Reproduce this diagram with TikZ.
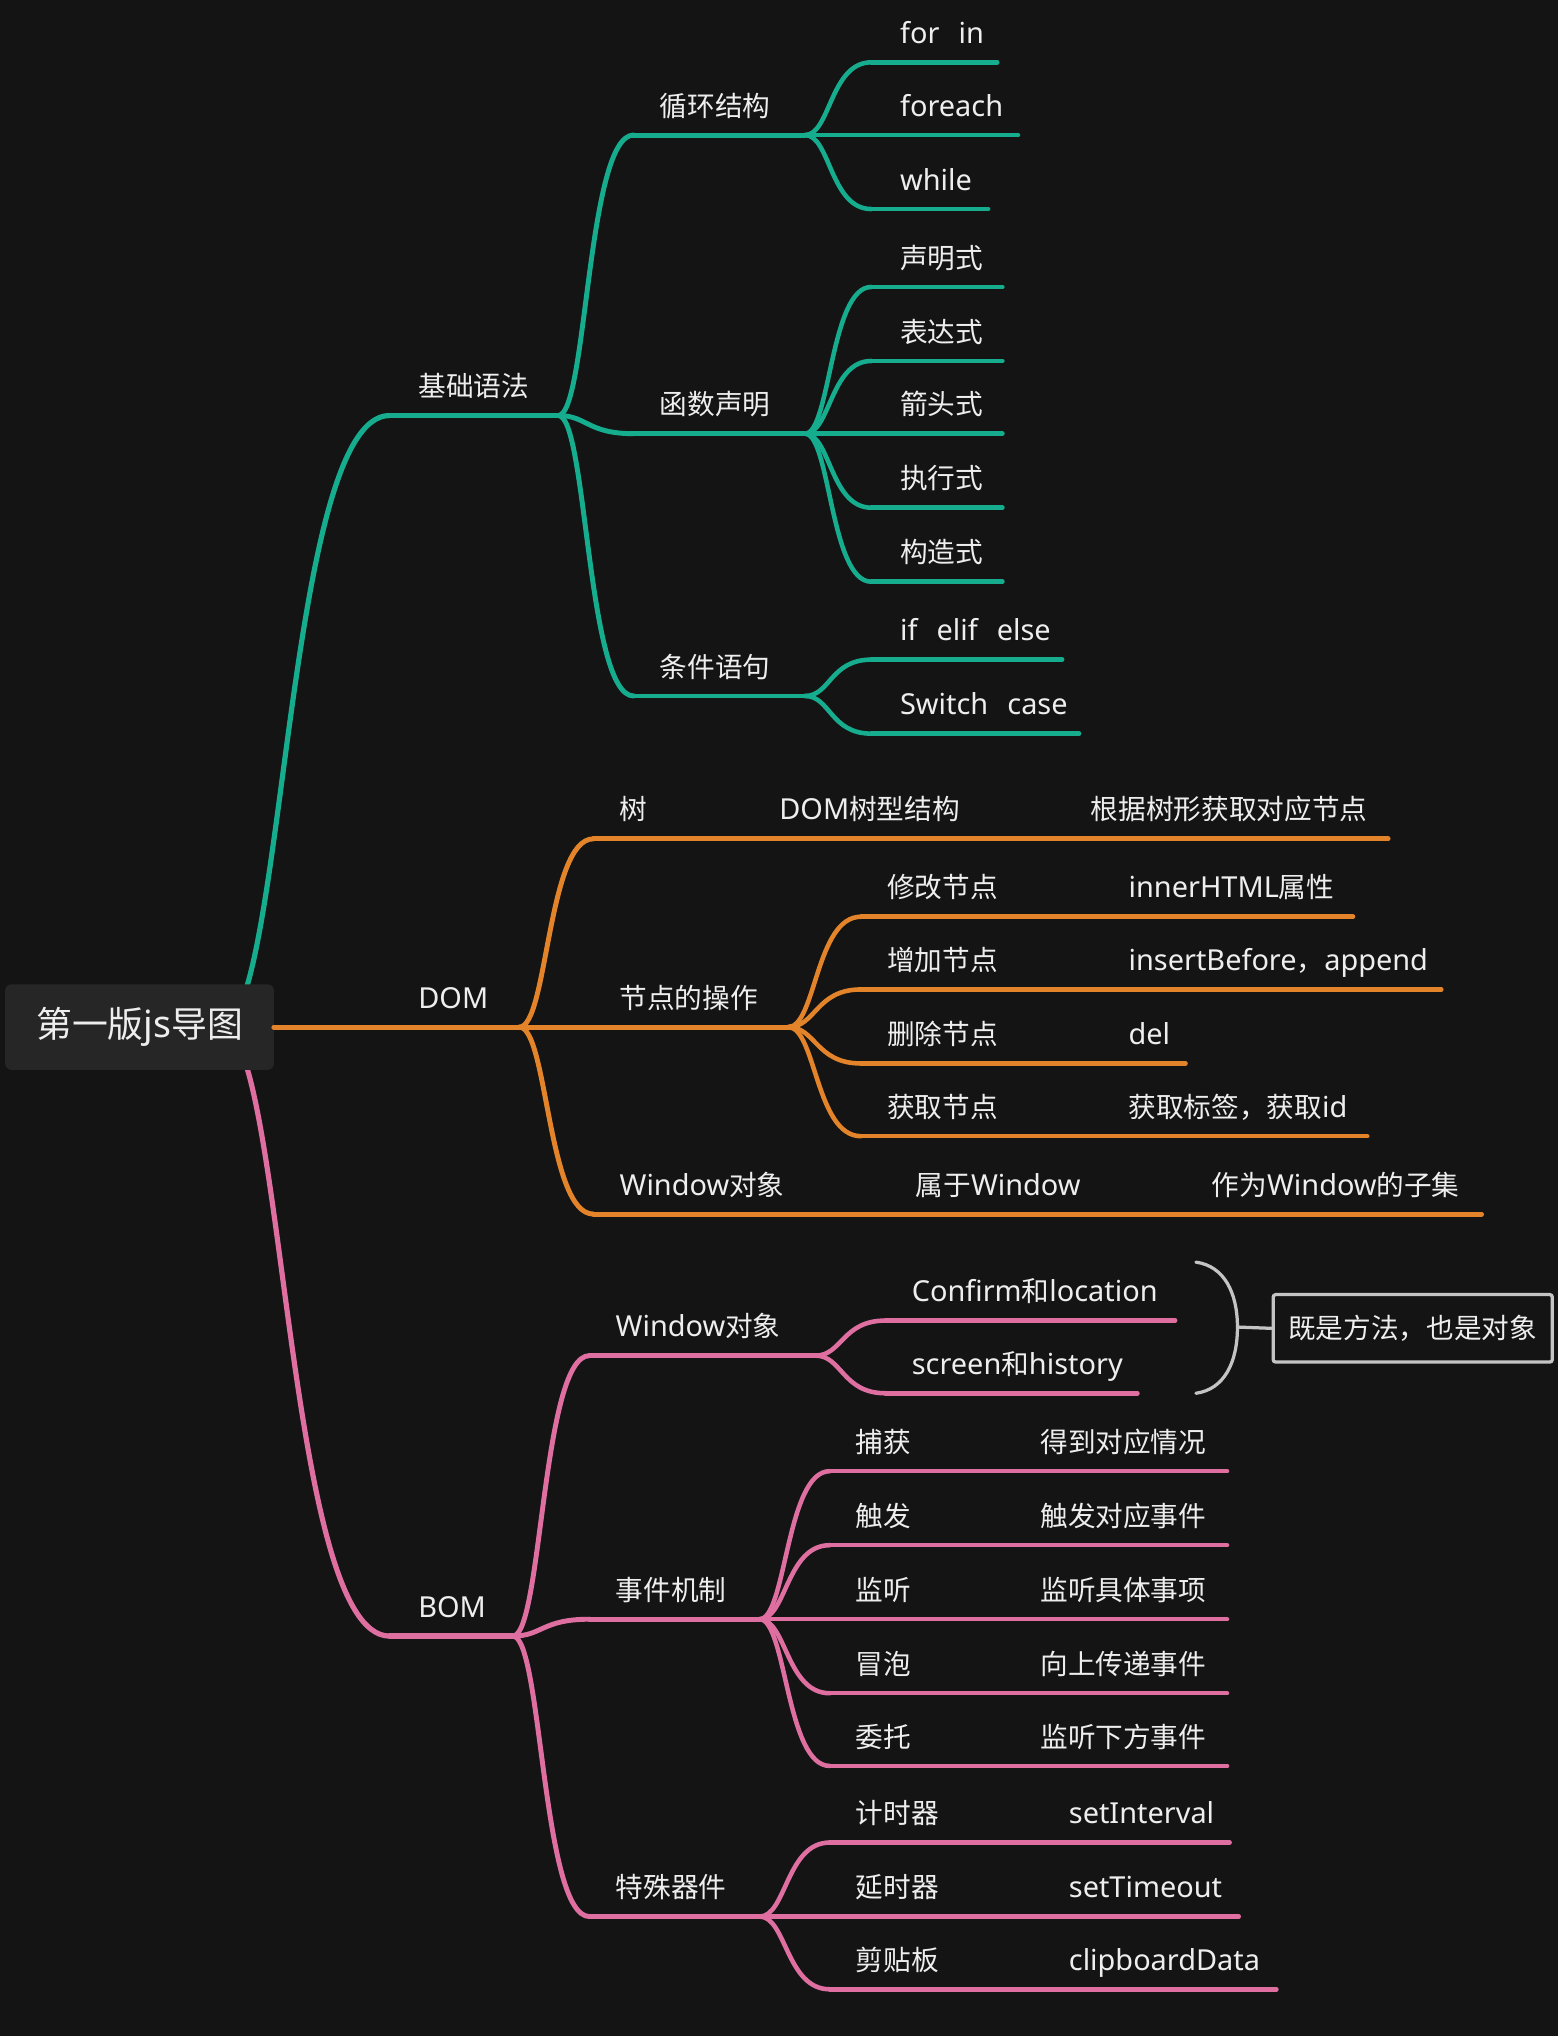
\documentclass[tikz,border=0pt]{standalone}
\usepackage{fontspec}
\setmainfont{Noto Sans}[Scale=1.045]
\newfontfamily\cjkf{Noto Sans CJK SC}
\usetikzlibrary{calc}
\newcommand\zh[1]{{\cjkf #1}}
\definecolor{bgc}{HTML}{141414}
\definecolor{boxc}{HTML}{262626}
\definecolor{gc}{HTML}{16AD8F}
\definecolor{oc}{HTML}{E3842B}
\definecolor{pc}{HTML}{DE6FA0}
\definecolor{txc}{HTML}{EEEEEE}
\definecolor{grc}{HTML}{C4C4C4}
% #1 name, #2 line style, #3 x start, #4 x end, #5 y of underline, #6 x of text, #7 text
\newcommand\mmn[7]{%
  \coordinate (#1s) at (#3,#5);
  \coordinate (#1e) at (#4,#5);
  \draw[#2] (#1s) -- (#1e);
  \node[lbl] (#1) at (#6,#5-14.5) {#7};}
% curved connector from branch point #2 to child start #3
\newcommand\mmc[3]{\draw[#1] (#2) .. controls ($(#2)!0.38!(#3 |- #2)$) and ($(#2 |- #3)!0.38!(#3)$) .. (#3);}
\newcommand\gp{\hspace{0.66em}}
\begin{document}
\begin{tikzpicture}[x=1pt,y=-1pt,
  lbl/.style={text=txc, font=\fontsize{21.3}{25}\selectfont, inner sep=0pt, anchor=base west},
  l1/.style={line width=4pt, line cap=round},
  l2/.style={line width=3.8pt, line cap=round},
  l3/.style={line width=3.5pt, line cap=round},
  rootbox/.style={fill=boxc, rounded corners=5pt, minimum width=207pt, minimum height=66pt,
    text=txc, font=\fontsize{27.6}{32}\selectfont, inner sep=0pt},
  summ/.style={draw=grc, line width=2.5pt, rounded corners=2pt, minimum width=215pt,
    minimum height=52pt, text=txc, font=\fontsize{21.3}{25}\selectfont, inner sep=0pt},
  grl/.style={grc, line width=2.5pt, line cap=round}
]
\fill[bgc] (0,0) rectangle (1200,1568);
\useasboundingbox (0,0) rectangle (1200,1568);

\coordinate (rc) at (170,791);

% ---------- level 1 ----------
\mmn{A}{gc,l1}{300}{430}{320}{322}{\zh{基础语法}}
\mmc{gc,l1}{rc}{As}
\mmn{C}{pc,l1}{300}{395}{1260}{322}{BOM}
\mmc{pc,l1}{rc}{Cs}
\node[rootbox] (root) at (107.5,791) {\zh{第一版}js\zh{导图}};
\mmn{B}{oc,l1}{211}{400}{791}{322}{DOM}

% ---------- 基础语法 ----------
\mmn{A1}{gc,l2}{488}{620}{104}{508}{\zh{循环结构}}
\mmn{A2}{gc,l2}{488}{620}{334}{508}{\zh{函数声明}}
\mmn{A3}{gc,l2}{488}{620}{536}{508}{\zh{条件语句}}
\mmc{gc,l2}{Ae}{A1s}
\mmc{gc,l2}{Ae}{A2s}
\mmc{gc,l2}{Ae}{A3s}

\mmn{A11}{gc,l3}{671}{768}{48}{693}{for\gp in}
\mmn{A12}{gc,l3}{671}{784}{104}{693}{foreach}
\mmn{A13}{gc,l3}{671}{761}{161}{693}{while}
\mmc{gc,l3}{A1e}{A11s}
\mmc{gc,l3}{A1e}{A12s}
\mmc{gc,l3}{A1e}{A13s}

\mmn{A21}{gc,l3}{671}{772}{221}{693}{\zh{声明式}}
\mmn{A22}{gc,l3}{671}{772}{278}{693}{\zh{表达式}}
\mmn{A23}{gc,l3}{671}{772}{334}{693}{\zh{箭头式}}
\mmn{A24}{gc,l3}{671}{772}{391}{693}{\zh{执行式}}
\mmn{A25}{gc,l3}{671}{772}{448}{693}{\zh{构造式}}
\mmc{gc,l3}{A2e}{A21s}
\mmc{gc,l3}{A2e}{A22s}
\mmc{gc,l3}{A2e}{A23s}
\mmc{gc,l3}{A2e}{A24s}
\mmc{gc,l3}{A2e}{A25s}

\mmn{A31}{gc,l3}{671}{818}{508}{693}{if\gp elif\gp else}
\mmn{A32}{gc,l3}{671}{831}{565}{693}{Switch\gp case}
\mmc{gc,l3}{A3e}{A31s}
\mmc{gc,l3}{A3e}{A32s}

% ---------- DOM ----------
\mmn{B1}{oc,l2}{457}{580}{646}{477}{\zh{树}}
\mmn{B11}{oc,l2}{580}{820}{646}{600}{DOM\zh{树型结构}}
\mmn{B111}{oc,l2}{820}{1069}{646}{840}{\zh{根据树形获取对应节点}}
\mmn{B2}{oc,l2}{457}{607}{791}{477}{\zh{节点的操作}}
\mmn{B3}{oc,l2}{457}{685}{935}{477}{Window\zh{对象}}
\mmn{B31}{oc,l2}{685}{913}{935}{705}{\zh{属于}Window}
\mmn{B311}{oc,l2}{913}{1141}{935}{933}{\zh{作为}Window\zh{的子集}}
\mmc{oc,l2}{Be}{B1s}
\mmc{oc,l2}{Be}{B2s}
\mmc{oc,l2}{Be}{B3s}

\mmn{B21}{oc,l3}{663}{850}{706}{683}{\zh{修改节点}}
\mmn{B211}{oc,l3}{850}{1042}{706}{869}{innerHTML\zh{属性}}
\mmn{B22}{oc,l3}{663}{850}{762}{683}{\zh{增加节点}}
\mmn{B221}{oc,l3}{850}{1110}{762}{869}{insertBefore\zh{，}append}
\mmn{B23}{oc,l3}{663}{850}{819}{683}{\zh{删除节点}}
\mmn{B231}{oc,l3}{850}{913}{819}{869}{del}
\mmn{B24}{oc,l3}{663}{850}{875}{683}{\zh{获取节点}}
\mmn{B241}{oc,l3}{850}{1053}{875}{869}{\zh{获取标签，获取}id}
\mmc{oc,l3}{B2e}{B21s}
\mmc{oc,l3}{B2e}{B22s}
\mmc{oc,l3}{B2e}{B23s}
\mmc{oc,l3}{B2e}{B24s}

% ---------- BOM ----------
\mmn{C1}{pc,l2}{454}{628}{1044}{474}{Window\zh{对象}}
\mmn{C2}{pc,l2}{454}{585}{1247}{474}{\zh{事件机制}}
\mmn{C3}{pc,l2}{454}{585}{1476}{474}{\zh{特殊器件}}
\mmc{pc,l2}{Ce}{C1s}
\mmc{pc,l2}{Ce}{C2s}
\mmc{pc,l2}{Ce}{C3s}

\mmn{C11}{pc,l3}{682}{905}{1017}{702}{Confirm\zh{和}location}
\mmn{C12}{pc,l3}{682}{876}{1073}{702}{screen\zh{和}history}
\mmc{pc,l3}{C1e}{C11s}
\mmc{pc,l3}{C1e}{C12s}

\coordinate (bt) at (921,972);
\coordinate (bb) at (921,1073);
\coordinate (bm) at (953,1022);
\draw[grl] (bt) .. controls (943,975) and (953,996) .. (bm) .. controls (953,1049) and (943,1070) .. (bb);
\node[summ] (S) at (1088,1023) {\zh{既是方法，也是对象}};
\draw[grl] (bm) -- (S.west);

\mmn{C21}{pc,l3}{639}{781}{1133}{659}{\zh{捕获}}
\mmn{C211}{pc,l3}{781}{945}{1133}{801}{\zh{得到对应情况}}
\mmn{C22}{pc,l3}{639}{781}{1190}{659}{\zh{触发}}
\mmn{C221}{pc,l3}{781}{945}{1190}{801}{\zh{触发对应事件}}
\mmn{C23}{pc,l3}{639}{781}{1247}{659}{\zh{监听}}
\mmn{C231}{pc,l3}{781}{945}{1247}{801}{\zh{监听具体事项}}
\mmn{C24}{pc,l3}{639}{781}{1304}{659}{\zh{冒泡}}
\mmn{C241}{pc,l3}{781}{945}{1304}{801}{\zh{向上传递事件}}
\mmn{C25}{pc,l3}{639}{781}{1360}{659}{\zh{委托}}
\mmn{C251}{pc,l3}{781}{945}{1360}{801}{\zh{监听下方事件}}
\mmc{pc,l3}{C2e}{C21s}
\mmc{pc,l3}{C2e}{C22s}
\mmc{pc,l3}{C2e}{C23s}
\mmc{pc,l3}{C2e}{C24s}
\mmc{pc,l3}{C2e}{C25s}

\mmn{C31}{pc,l3}{639}{803}{1419}{659}{\zh{计时器}}
\mmn{C311}{pc,l3}{803}{947}{1419}{823}{setInterval}
\mmn{C32}{pc,l3}{639}{803}{1476}{659}{\zh{延时器}}
\mmn{C321}{pc,l3}{803}{954}{1476}{823}{setTimeout}
\mmn{C33}{pc,l3}{639}{803}{1532}{659}{\zh{剪贴板}}
\mmn{C331}{pc,l3}{803}{983}{1532}{823}{clipboardData}
\mmc{pc,l3}{C3e}{C31s}
\mmc{pc,l3}{C3e}{C32s}
\mmc{pc,l3}{C3e}{C33s}
\end{tikzpicture}
\end{document}
